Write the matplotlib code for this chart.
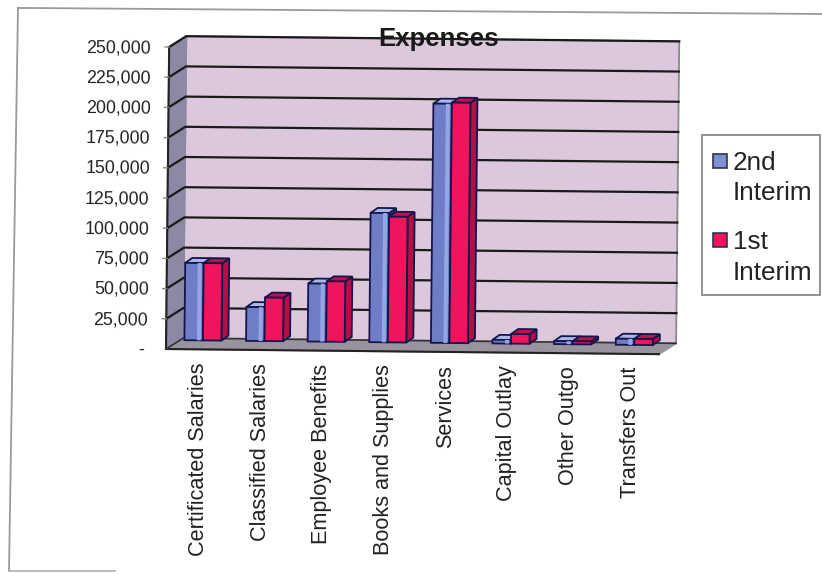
import matplotlib
matplotlib.use('Agg')
import matplotlib.pyplot as plt
from matplotlib.lines import Line2D
from matplotlib.patches import Rectangle
from matplotlib.transforms import Affine2D

categories = ['Certificated Salaries', 'Classified Salaries', 'Employee Benefits',
              'Books and Supplies', 'Services', 'Capital Outlay', 'Other Outgo', 'Transfers Out']
interim_2nd = [64000, 28000, 48000, 107000, 198000, 3000, 2500, 5000]
interim_1st = [64000, 36000, 50000, 104000, 199000, 8000, 2500, 5000]
yticks = list(range(25000, 250001, 25000))
ylabels = ['{:,}'.format(v) for v in yticks]

plt.rcParams['font.family'] = ['Liberation Sans', 'DejaVu Sans']

W, H = 822, 574
x0, y0 = 166, 349     # front bottom left corner, pixels from top
plot_w, plot_h = 493, 302
fig = plt.figure(figsize=(W / 100, H / 100), dpi=100)
ax = fig.add_axes([x0 / W, 1 - y0 / H, plot_w / W, plot_h / H])
ax.set_xlim(0, 8)
ax.set_ylim(0, 250000)
ax.axis('off')

# the page was scanned a bit crooked
trans = ax.transData + Affine2D().rotate_deg_around(x0, H - y0, -0.6)

px = 8 / plot_w          # one pixel in x data units
py = 250000 / plot_h     # one pixel in y data units
dx, dy = 17 * px, 11 * py       # depth of the floor
bx, by = 7 * px, 5 * py         # depth of a bar
ox, oy = 6 * px, 9 * py         # where bars stand on the floor
bar_w = 18.5 * px


def face(xs, ys, color, z, edge='#15154a', lw=1.3):
    ax.fill(xs, ys, facecolor=color, edgecolor=edge, linewidth=lw, transform=trans,
            zorder=z, clip_on=False)


# scan edges of the page
for xs, ys, c in [([18, 30, 822], [8, 8, 14], '#9a9a9a'), ([18, 9], [8, 571], '#9a9a9a'),
                  ([9, 115], [571, 571], '#b5b5b5')]:
    fig.add_artist(Line2D([a / W for a in xs], [1 - b / H for b in ys], color=c, lw=1.3))

# walls and floor
face([dx, 8 + dx, 8 + dx, dx], [dy, dy, 250000 + dy, 250000 + dy], '#dbc8dd', 1, edge='#8a8a8a')
face([0, dx, dx, 0], [0, dy, 250000 + dy, 250000], '#8d88a3', 1, edge='#8d88a3')
face([0, 8, 8 + dx, dx], [0, 0, dy, dy], '#98939f', 1, edge='#98939f')
ax.plot([0, 0], [0, 250000], color='#222222', lw=1.5, transform=trans, zorder=2, clip_on=False)
ax.plot([0, 8], [0, 0], color='#222222', lw=1.5, transform=trans, zorder=2, clip_on=False)
ax.plot([0, dx, 8 + dx], [0, dy, dy], color='#333333', lw=1.2, transform=trans, zorder=2, clip_on=False)

for v in yticks:
    ax.plot([0, dx, 8 + dx], [v, v + dy, v + dy], color='#1a1a1a', lw=1.6,
            transform=trans, zorder=2, clip_on=False)

# bars, left to right so that the later ones cover the sides of the earlier
series = [(interim_2nd, '#6f7cc6', '#2a3a8a', '#a9b8ea'),
          (interim_1st, '#f0145c', '#b10f45', '#c0104c')]
for i in range(len(categories)):
    for j, (vals, front, dark, top) in enumerate(series):
        left = i + 0.5 + ox + (j - 1) * bar_w
        right = left + bar_w
        base = oy
        h = vals[i] + base
        z = 3 + i + j * 0.5
        face([right, right + bx, right + bx, right], [base, base + by, h + by, h], dark, z)
        face([left, right, right + bx, left + bx], [h, h, h + by, h + by], top, z)
        ax.bar(left, h - base, bar_w, bottom=base, align='edge', color=front, edgecolor='#15154a',
               linewidth=1.3, transform=trans, zorder=z, clip_on=False)
        if j == 0:
            # light strip on the blue bars
            ax.bar(right - 6 * px, h - base, 4 * px, bottom=base, align='edge', color='#93a6e6',
                   linewidth=0, transform=trans, zorder=z + 0.1, clip_on=False)

# tick labels
ax.text(-22 * px, -2 * py, '-', ha='right', va='center', fontsize=12.8, color='#222222', transform=trans)
for v, s in zip(yticks, ylabels):
    ax.text(-18 * px, v - 1.5 * py, s, ha='right', va='center', fontsize=12.8, color='#222222',
            rotation=-0.6, rotation_mode='anchor', transform=trans)
    ax.plot([-4 * px, 0], [v, v], color='#888888', lw=1, transform=trans, clip_on=False)
for i, name in enumerate(categories):
    ax.text(i + 0.5 + 2 * px, -13 * py, name, ha='center', va='top', rotation=90, fontsize=15.6,
            color='#222222', transform=trans)

fig.text(439 / W, 1 - 39 / H, 'Expenses', ha='center', va='center', fontsize=18.5,
         fontweight='bold', color='#1a1a1a', zorder=20)

# legend box
fig.add_artist(Rectangle((702 / W, 1 - 295 / H), 118 / W, 160 / H, transform=fig.transFigure,
                         facecolor='white', edgecolor='#8a8a8a', linewidth=1.3))
legend_rows = [('2nd', 'Interim', 161, 191, '#8090d4'), ('1st', 'Interim', 240, 271, '#f0145c')]
for first, second, y1, y2, color in legend_rows:
    fig.add_artist(Rectangle((713 / W, 1 - (y1 + 7) / H), 14 / W, 14 / H, transform=fig.transFigure,
                             facecolor=color, edgecolor='#33334a', linewidth=1.2))
    fig.text(733 / W, 1 - (y1 + 2) / H, first, ha='left', va='center', fontsize=18.8, color='#222222')
    fig.text(733 / W, 1 - (y2 + 2) / H, second, ha='left', va='center', fontsize=18.8, color='#222222')

fig.savefig('out.png', dpi=100)
